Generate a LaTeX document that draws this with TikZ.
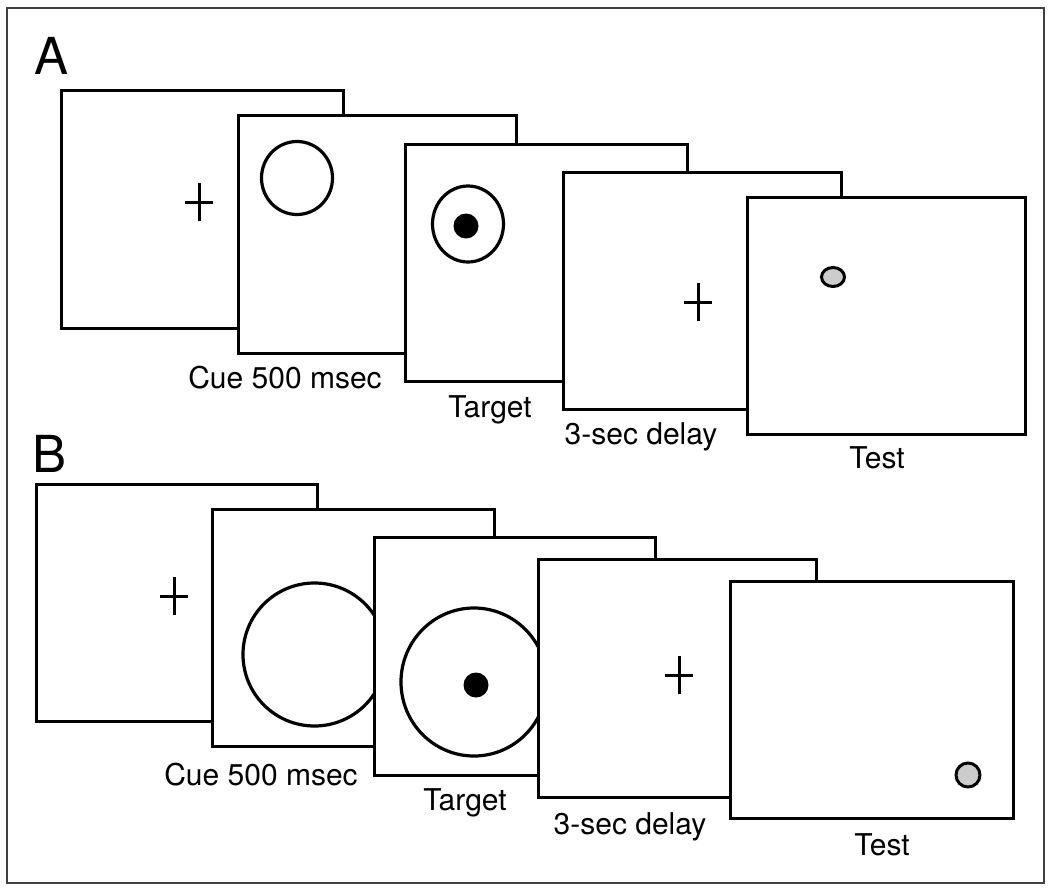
\documentclass[tikz,border=0pt]{standalone}
\usepackage{fontspec}
\setmainfont{TeX Gyre Heros}
\begin{document}
\begin{tikzpicture}[x=1pt,y=-1pt,
  screen/.style={draw=black, fill=white, line width=3.3pt, rectangle, inner sep=0pt, anchor=north west},
  lbl/.style={font=\fontsize{30}{36}\selectfont, anchor=base, inner sep=0pt},
  panel/.style={font=\fontsize{51}{60}\selectfont, anchor=base west, inner sep=0pt},
  fix/.style={line width=3pt},
  ring/.style={line width=3.2pt},
  probe/.style={line width=3pt, fill=black!20},
  border/.style={line width=2pt, draw=black!75}]
\useasboundingbox (0,0) rectangle (1050,889);
\draw[border] (7,8) rectangle (1044,883);

% ---------------- Panel A ----------------
\node[panel] (labA) at (34,74) {A};
\node[screen, minimum width=282pt, minimum height=238pt] (a1) at (60,89) {};
\draw[fix] (185,202) -- (213,202) (199,183) -- (199,221);
\node[screen, minimum width=278pt, minimum height=238pt] (a2) at (237,114) {};
\draw[ring] (297,178) ellipse [x radius=35.5, y radius=36.5];
\node[screen, minimum width=282pt, minimum height=237pt] (a3) at (404,143) {};
\draw[ring] (468,224) ellipse [x radius=35.5, y radius=38];
\fill (466,226) circle [radius=12.5];
\node[screen, minimum width=278pt, minimum height=237pt] (a4) at (562,171) {};
\draw[fix] (684,302) -- (712,302) (698,283) -- (698,321);
\node[screen, minimum width=278pt, minimum height=237pt] (a5) at (746,196) {};
\draw[probe] (833,277) ellipse [x radius=11.5, y radius=9.5];

\node[lbl] (ta1) at (285,388) {Cue 500 msec};
\node[lbl] (ta2) at (490,417) {Target};
\node[lbl] (ta3) at (641,444) {3-sec delay};
\node[lbl] (ta4) at (877,468) {Test};

% ---------------- Panel B ----------------
\node[panel] (labB) at (32,472) {B};
\node[screen, minimum width=281pt, minimum height=237pt] (b1) at (35,483) {};
\draw[fix] (160,596) -- (188,596) (174,577) -- (174,615);
\node[screen, minimum width=282pt, minimum height=237pt] (b2) at (211,508) {};
\draw[ring] (314.5,654.5) ellipse [x radius=71.5, y radius=71.5];
\node[screen, minimum width=281pt, minimum height=238pt] (b3) at (373,536) {};
\draw[ring] (474,682) ellipse [x radius=73, y radius=74];
\fill (476,685) circle [radius=12.5];
\node[screen, minimum width=278pt, minimum height=238pt] (b4) at (537,558) {};
\draw[fix] (665,675) -- (693,675) (679,656) -- (679,694);
\node[screen, minimum width=283pt, minimum height=237pt] (b5) at (729,580) {};
\draw[probe] (968,775) circle [radius=12];

\node[lbl] (tb1) at (261,785) {Cue 500 msec};
\node[lbl] (tb2) at (465,810) {Target};
\node[lbl] (tb3) at (630,834) {3-sec delay};
\node[lbl] (tb4) at (882,855) {Test};
\end{tikzpicture}
\end{document}
